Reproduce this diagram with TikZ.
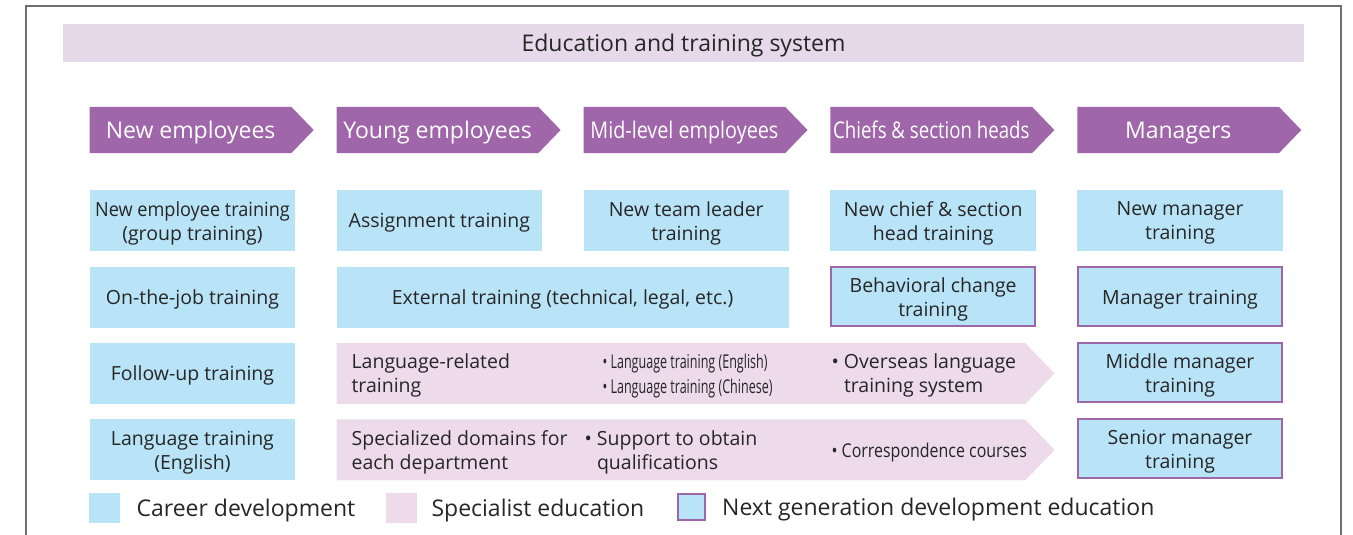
\documentclass[tikz,border=0pt]{standalone}
\usepackage{graphicx}
\usepackage{fontspec}
\setmainfont{Open Sans}
\usetikzlibrary{positioning,shapes.symbols}

\definecolor{hdpurple}{HTML}{A066AA}
\definecolor{cdblue}{HTML}{B9E4F8}
\definecolor{sppink}{HTML}{EDDAEB}
\definecolor{bandpink}{HTML}{E5D9EA}
\definecolor{ink}{HTML}{262626}
\definecolor{framegray}{HTML}{6E6E6E}

\newcommand{\cnd}[2]{\scalebox{#1}[1]{#2}}

\begin{document}
\begin{tikzpicture}[x=1pt,y=-1pt]
			\tikzset{
				hdr/.style={signal, signal to=east, signal pointer angle=92,
						fill=hdpurple, text=white, inner sep=0pt, text depth=0pt,
						minimum width=224pt, minimum height=46pt, anchor=west,
						font=\fontsize{23}{27}\selectfont},
				cbox/.style={rectangle, fill=cdblue, text=ink, inner sep=0pt, text depth=0pt,
						minimum width=205.5pt, minimum height=61pt, align=center,
						font=\fontsize{19.5}{24}\selectfont},
				nbox/.style={cbox, draw=hdpurple, line width=2pt,
						minimum width=203.5pt, minimum height=59pt},
				sband/.style={signal, signal to=east, signal pointer angle=92,
						fill=sppink, inner sep=0pt, minimum width=718pt, minimum height=61pt},
				stxt/.style={text=ink, inner sep=0pt, text depth=0pt, align=left, anchor=west,
						font=\fontsize{19.5}{24}\selectfont},
				lgsq/.style={rectangle, fill=#1, inner sep=0pt, minimum width=31pt, minimum height=30pt},
				lgtxt/.style={text=ink, inner sep=0pt, text depth=0pt, font=\fontsize{23}{27}\selectfont},
			}
			\useasboundingbox (0,0) rectangle (1353,535);
			\draw[framegray, line width=1.4pt] (26,540) -- (26,6) -- (1341,6) -- (1341,540);
			%
			\node[fill=bandpink, text=ink, minimum width=1241pt, minimum height=38pt, inner sep=0pt,
				text depth=0pt, font=\fontsize{23}{27}\selectfont] (title) at (683.5,43) {Education and training system};
			%
			\node[cbox, anchor=north west] (b11) at (89.5,190) {\cnd{0.93}{New employee training}\\(group training)};
			\node[cbox, right=41pt of b11] (b12) {Assignment training};
			\node[cbox, right=41pt of b12] (b13) {New team leader\\training};
			\node[cbox, right=41pt of b13] (b14) {New chief \& section\\head training};
			\node[cbox, right=41pt of b14] (b15) {New manager\\training};
			%
			\node[hdr] (h1) at ([yshift=60pt]b11.north west) {New employees};
			\node[hdr] (h2) at ([yshift=60pt]b12.north west) {Young employees};
			\node[hdr] (h3) at ([yshift=60pt]b13.north west) {\cnd{0.86}{Mid-level employees}};
			\node[hdr] (h4) at ([yshift=60pt]b14.north west) {\cnd{0.81}{Chiefs \& section heads}};
			\node[hdr] (h5) at ([yshift=60pt]b15.north west) {Managers};
			%
			\node[cbox, below=15pt of b11] (b21) {On-the-job training};
			\node[cbox, right=41pt of b21, minimum width=452pt] (ext) {External training (technical, legal, etc.)};
			\node[nbox, below=15pt of b14] (beh) {Behavioral change\\training};
			\node[nbox, below=15pt of b15] (b25) {Manager training};
			%
			\node[cbox, below=15pt of b21] (b31) {Follow-up training};
			\node[sband, right=41pt of b31] (lang) {};
			\node[stxt] (langA) at ([xshift=15pt]lang.west) {Language-related\\training};
			\node[stxt, font=\fontsize{19}{25}\selectfont] (langB) at ([xshift=266pt]lang.west)
				{\cnd{0.66}{\textbullet\ Language training (English)}\\\cnd{0.66}{\textbullet\ Language training (Chinese)}};
			\node[stxt] (langC) at ([xshift=495pt]lang.west) {\textbullet\ Overseas language\\\phantom{\textbullet\ }training system};
			\node[nbox, below=15pt of b25] (b35) {Middle manager\\training};
			%
			\node[cbox, below=15pt of b31] (b41) {Language training\\(English)};
			\node[sband, right=41pt of b41] (spec) {};
			\node[stxt] (specA) at ([xshift=15pt]spec.west) {Specialized domains for\\each department};
			\node[stxt] (specB) at ([xshift=248pt]spec.west) {\textbullet\ Support to obtain\\\phantom{\textbullet\ }qualifications};
			\node[stxt, font=\fontsize{19}{24}\selectfont] (specC) at ([xshift=495pt]spec.west)
				{\cnd{0.84}{\textbullet\ Correspondence courses}};
			\node[nbox, below=15pt of b35] (b45) {Senior manager\\training};
			%
			\node[lgsq=cdblue, anchor=north west] (lgA) at (89,493) {};
			\node[lgtxt, right=16pt of lgA] (lgAt) {Career development};
			\node[lgsq=sppink, anchor=north west] (lgB) at (386,493) {};
			\node[lgtxt, right=14pt of lgB] (lgBt) {Specialist education};
			\node[lgsq=cdblue, draw=hdpurple, line width=2pt, minimum width=27pt, minimum height=26pt,
				anchor=north west] (lgC) at (677,493) {};
			\node[lgtxt, right=16pt of lgC] (lgCt) {Next generation development education};
		\end{tikzpicture}
\end{document}
